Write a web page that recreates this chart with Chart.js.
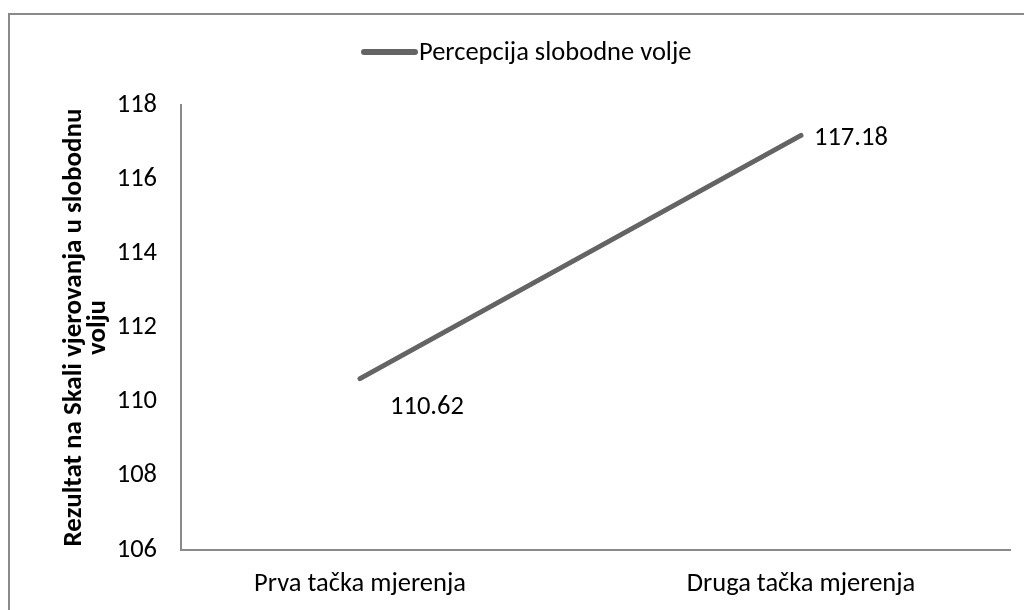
<!DOCTYPE html>
<html>
<head>
<meta charset="utf-8">
<script src="https://cdn.jsdelivr.net/npm/chart.js@4/dist/chart.umd.min.js"></script>
<style>
  body { margin: 0; background: #fff; }
  #wrap { position: relative; width: 1024px; height: 610px; overflow: hidden; }
  #okvir { position: absolute; left: 8px; top: 13px; width: 1100px; height: 700px;
           border-left: 2px solid #8a8a8a; border-top: 2px solid #8a8a8a; }
  canvas { position: absolute; left: 0; top: 0; }
</style>
</head>
<body>
<div id="wrap">
  <div id="okvir"></div>
  <canvas id="grafik" width="1024" height="610"></canvas>
</div>
<script>
const kategorije = ['Prva tačka mjerenja', 'Druga tačka mjerenja'];
const vrijednosti = [110.62, 117.18];
const nazivSerije = 'Percepcija slobodne volje';
const naslovY = ['Rezultat na Skali vjerovanja u slobodnu', 'volju'];
const tickoviY = [106, 108, 110, 112, 114, 116, 118];

const FONT = "Carlito, 'Open Sans', sans-serif";
const VEL = 26.5;
const boja = '#646464';

document.addEventListener('DOMContentLoaded', function() {
    const ctx = document.getElementById('grafik').getContext('2d');

    // legenda i oznake podataka crtamo sami
    const dodaci = {
        id: 'dodaci',
        afterDatasetsDraw: (chart) => {
            const c = chart.ctx;
            const meta = chart.getDatasetMeta(0);
            c.save();
            c.font = VEL + 'px ' + FONT;
            c.fillStyle = '#000';
            c.textBaseline = 'middle';
            c.textAlign = 'left';
            const pomaci = [[30, 29], [13, 3]];
            meta.data.forEach((p, i) => {
                c.fillText(vrijednosti[i].toFixed(2), p.x + pomaci[i][0], p.y + pomaci[i][1]);
            });

            // legenda
            c.strokeStyle = boja;
            c.lineWidth = 6;
            c.lineCap = 'round';
            c.beginPath();
            c.moveTo(364, 52);
            c.lineTo(415, 52);
            c.stroke();
            c.fillText(nazivSerije, 419, 53);
            c.restore();
        }
    };

    new Chart(ctx, {
        type: 'line',
        data: {
            datasets: [{
                label: nazivSerije,
                data: vrijednosti.map((v, i) => ({ x: i, y: v })),
                borderColor: boja,
                backgroundColor: boja,
                borderWidth: 5,
                pointRadius: 0,
                borderCapStyle: 'round',
                tension: 0
            }]
        },
        options: {
            responsive: false,
            animation: false,
            layout: { padding: { top: 105, right: 14, left: 0, bottom: 0 } },
            plugins: {
                legend: { display: false },
                tooltip: { enabled: false }
            },
            scales: {
                x: {
                    type: 'linear',
                    min: -0.406,
                    max: 1.474,
                    afterBuildTicks: (scale) => {
                        scale.ticks = kategorije.map((k, i) => ({ value: i }));
                    },
                    afterFit: (scale) => { scale.height = 60; },
                    ticks: {
                        callback: (v) => kategorije[v],
                        font: { family: FONT, size: VEL },
                        color: '#000',
                        padding: 18,
                        maxRotation: 0
                    },
                    grid: { display: false, drawTicks: false },
                    border: { display: true, color: '#8a8a8a', width: 2 }
                },
                y: {
                    min: 106,
                    max: 118,
                    afterBuildTicks: (scale) => {
                        scale.ticks = tickoviY.map(v => ({ value: v }));
                    },
                    afterFit: (scale) => { scale.width = 181; },
                    ticks: {
                        font: { family: FONT, size: VEL },
                        color: '#000',
                        padding: 24
                    },
                    grid: { display: false, drawTicks: false },
                    border: { display: true, color: '#8a8a8a', width: 2 },
                    title: {
                        display: true,
                        text: naslovY,
                        font: { family: FONT, size: 27, weight: 'bold', lineHeight: 0.9 },
                        color: '#000',
                        padding: { top: 62, bottom: 0 }
                    }
                }
            }
        },
        plugins: [dodaci]
    });
});
</script>
</body>
</html>
